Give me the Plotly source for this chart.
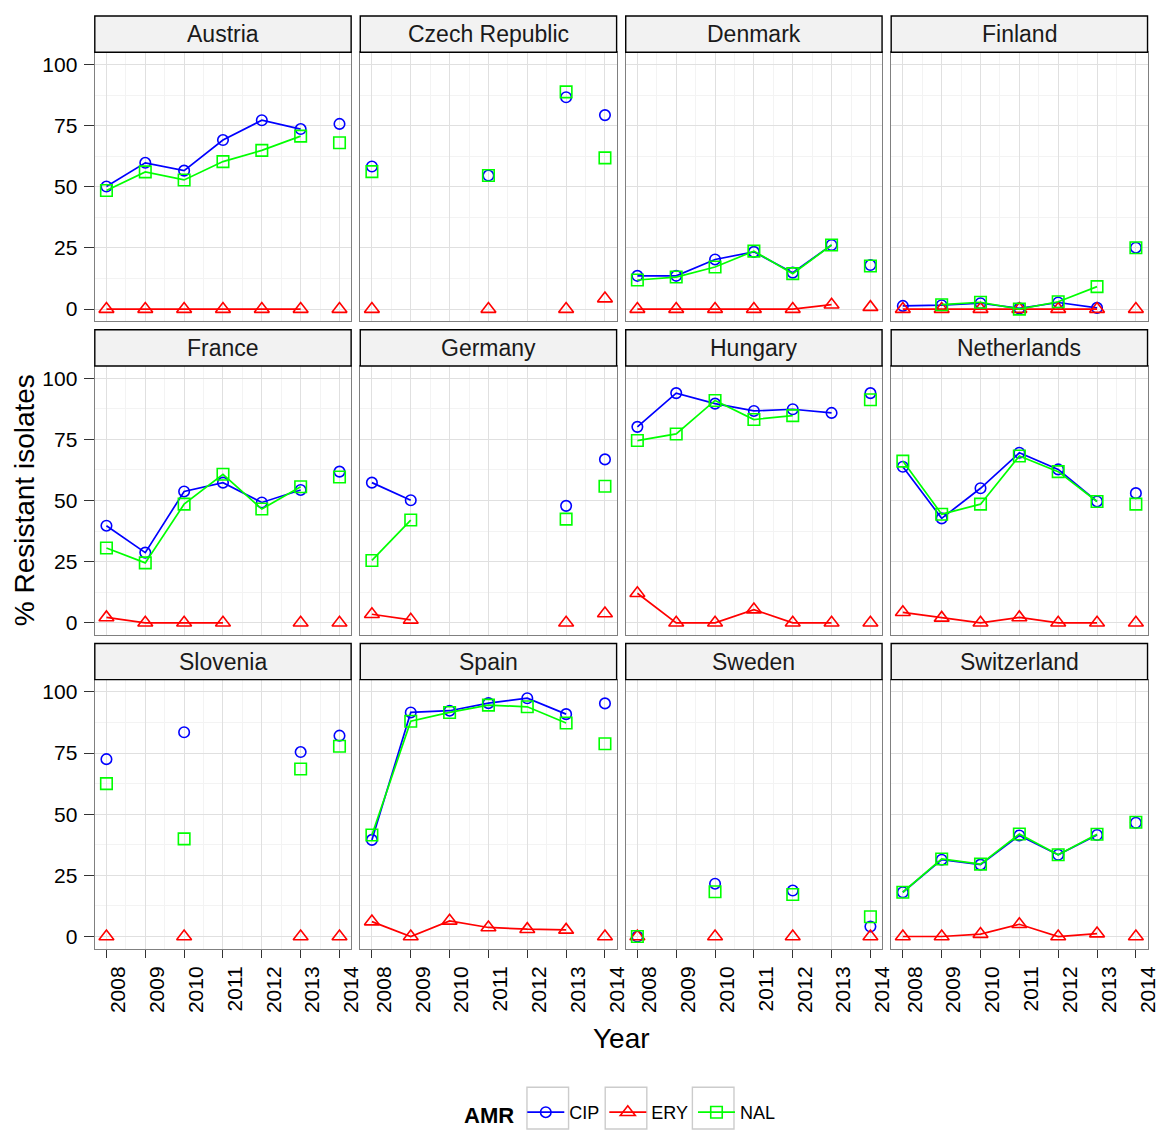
import plotly.graph_objects as go

W, H = 1162, 1133
N = None

YEARS = [2008, 2009, 2010, 2011, 2012, 2013, 2014]
COUNTRIES = ["Austria", "Czech Republic", "Denmark", "Finland",
             "France", "Germany", "Hungary", "Netherlands",
             "Slovenia", "Spain", "Sweden", "Switzerland"]

CIP = {
    "Austria":        [50.1, 59.8, 56.6, 69.1, 77.2, 73.6, 75.7],
    "Czech Republic": [58.3, N, N, 54.6, N, 86.6, 79.3],
    "Denmark":        [13.6, 13.6, 20.3, 23.4, 14.9, 26.2, 18.0],
    "Finland":        [1.3, 1.6, 2.4, 0.3, 2.7, 0.5, 25.1],
    "France":         [39.7, 28.7, 53.7, 57.3, 49.2, 54.3, 61.8],
    "Germany":        [57.3, 50.1, N, N, N, 47.8, 66.8],
    "Hungary":        [80.1, 93.9, 89.6, 86.6, 87.3, 85.8, 93.9],
    "Netherlands":    [63.8, 42.7, 55.0, 69.5, 62.7, 49.6, 53.0],
    "Slovenia":       [72.5, N, 83.5, N, N, 75.4, 82.1],
    "Spain":          [39.5, 91.6, 92.3, 95.4, 97.4, 90.9, 95.3],
    "Sweden":         [0.0, N, 21.6, N, 18.8, N, 4.1],
    "Switzerland":    [18.1, 31.4, 29.4, 41.3, 33.4, 41.5, 46.5],
}
ERY = {
    "Austria":        [0, 0, 0, 0, 0, 0, 0],
    "Czech Republic": [0, N, N, 0, N, 0, 4.3],
    "Denmark":        [0, 0, 0, 0, 0, 1.8, 0.8],
    "Finland":        [0, 0, 0, 0, 0, 0, 0],
    "France":         [2.2, 0, 0, 0, N, 0, 0],
    "Germany":        [3.5, 1.2, N, N, N, 0, 3.8],
    "Hungary":        [12.1, 0, 0, 5.4, 0, 0, 0],
    "Netherlands":    [4.3, 2.0, 0, 2.2, 0, 0, 0],
    "Slovenia":       [0, N, 0, N, N, 0, 0],
    "Spain":          [6.1, 0, 6.4, 3.7, 3.0, 2.7, 0],
    "Sweden":         [0, N, 0, N, 0, N, 0],
    "Switzerland":    [0, 0, 1.0, 5.0, 0, 1.2, 0],
}
NAL = {
    "Austria":        [48.5, 56.1, 52.8, 60.3, 64.9, 70.7, 68.0],
    "Czech Republic": [56.2, N, N, 54.6, N, 88.8, 61.8],
    "Denmark":        [11.9, 13.1, 17.2, 23.7, 14.5, 26.2, 17.6],
    "Finland":        [N, 1.8, 2.8, 0.0, 3.0, 9.2, 25.1],
    "France":         [30.6, 24.5, 48.5, 60.7, 46.5, 55.6, 59.6],
    "Germany":        [25.5, 42.0, N, N, N, 42.4, 55.8],
    "Hungary":        [74.5, 77.2, 90.9, 83.1, 84.7, N, 91.2],
    "Netherlands":    [66.1, 44.4, 48.5, 68.2, 61.8, 49.6, 48.5],
    "Slovenia":       [62.5, N, 39.9, N, N, 68.5, 77.8],
    "Spain":          [41.5, 88.0, 91.6, 94.6, 93.9, 87.3, 78.8],
    "Sweden":         [0.0, N, 18.3, N, 17.2, N, 8.1],
    "Switzerland":    [18.1, 31.7, 29.6, 41.9, 33.4, 41.8, 46.7],
}

SERIES = [("CIP", CIP, "#0000FF", "circle-open", 10.5),
          ("ERY", ERY, "#FF0000", "triangle-up-open", 13),
          ("NAL", NAL, "#00FF00", "square-open", 11.5)]

FONT = "Liberation Sans, Arial, sans-serif"

# panel geometry in pixels
COL_LEFT0, COL_STEP, PANEL_W = 95.7, 268.0, 258.8
ROW_TOP0, ROW_STEP, PANEL_H = 52.7, 316.5, 271.5
STRIP_H = 36.5
LEGEND_TOP = 1104
KEY_BOX_CENTERS = [553, 632, 720]


def px(x):
    return x / W


def py(y):
    return 1 - y / H


fig = go.Figure()
layout = dict(
    width=W, height=H, autosize=False,
    margin=dict(l=0, r=0, t=0, b=0),
    paper_bgcolor="white", plot_bgcolor="white",
    font=dict(family=FONT, color="black"),
    showlegend=True,
)
shapes = []
annotations = []

for i, country in enumerate(COUNTRIES):
    r, c = divmod(i, 4)
    k = "" if i == 0 else str(i + 1)
    left = COL_LEFT0 + c * COL_STEP
    top = ROW_TOP0 + r * ROW_STEP
    xd = [px(left), px(left + PANEL_W)]
    yd = [py(top + PANEL_H), py(top)]
    bottom_row = (r == 2)
    first_col = (c == 0)
    layout["xaxis" + k] = dict(
        domain=xd, anchor="y" + k, range=[2007.7, 2014.3],
        tick0=2008, dtick=1, showgrid=True, gridcolor="#E0E0E0", gridwidth=1.4,
        minor=dict(dtick=0.5, tick0=2008, showgrid=True, gridcolor="#F3F3F3", gridwidth=1),
        showline=True, mirror=True, linecolor="#808080", linewidth=1.4,
        zeroline=False,
        ticks="outside" if bottom_row else "", ticklen=8, tickwidth=1.4, tickcolor="#333333",
        showticklabels=bottom_row, tickangle=-90,
        ticklabelshift=12, ticklabelstandoff=0,
        tickfont=dict(size=21, color="black", family=FONT),
    )
    layout["yaxis" + k] = dict(
        domain=yd, anchor="x" + k, range=[-5, 105],
        tick0=0, dtick=25, showgrid=True, gridcolor="#E0E0E0", gridwidth=1.4,
        minor=dict(dtick=12.5, tick0=0, showgrid=True, gridcolor="#F3F3F3", gridwidth=1),
        showline=True, mirror=True, linecolor="#808080", linewidth=1.4,
        zeroline=False,
        ticks="outside" if first_col else "", ticklen=10, tickwidth=1.4, tickcolor="#333333",
        showticklabels=first_col, ticklabelstandoff=2,
        tickfont=dict(size=21, color="black", family=FONT),
    )
    # strip
    shapes.append(dict(type="rect", xref="paper", yref="paper",
                       x0=px(left), x1=px(left + PANEL_W),
                       y0=py(top), y1=py(top - STRIP_H),
                       fillcolor="#F2F2F2", line=dict(color="black", width=1.4),
                       layer="above"))
    annotations.append(dict(text=country, xref="paper", yref="paper",
                            x=px(left + PANEL_W / 2), y=py(top - STRIP_H / 2),
                            xanchor="center", yanchor="middle", showarrow=False,
                            font=dict(size=23, color="#1A1A1A", family=FONT)))

    for name, data, color, symbol, msize in SERIES:
        vals = data[country]
        fig.add_trace(go.Scatter(
            x=YEARS[:6], y=vals[:6], mode="lines+markers", name=name,
            legendgroup=name, showlegend=(i == 0), connectgaps=False,
            line=dict(color=color, width=1.7),
            marker=dict(symbol=symbol, size=msize, color=color,
                        line=dict(color=color, width=1.6)),
            xaxis="x" + k, yaxis="y" + k, cliponaxis=False,
        ))
        fig.add_trace(go.Scatter(
            x=YEARS[6:], y=vals[6:], mode="markers", name=name,
            legendgroup=name, showlegend=False,
            marker=dict(symbol=symbol, size=msize, color=color,
                        line=dict(color=color, width=1.6)),
            xaxis="x" + k, yaxis="y" + k, cliponaxis=False,
        ))

# legend key boxes (decoration around the legend symbols)
for cx in KEY_BOX_CENTERS:
    shapes.append(dict(type="rect", xref="paper", yref="paper",
                       x0=px(cx - 21), x1=px(cx + 21),
                       y0=py(LEGEND_TOP - 7 + 42), y1=py(LEGEND_TOP - 7),
                       fillcolor="white", line=dict(color="#CCCCCC", width=1.4),
                       layer="below"))

# axis titles
annotations.append(dict(text="% Resistant isolates", xref="paper", yref="paper",
                        x=px(25), y=py(ROW_TOP0 + (2 * ROW_STEP + PANEL_H) / 2),
                        xanchor="center", yanchor="middle", textangle=-90,
                        showarrow=False, font=dict(size=28, color="black", family=FONT)))
annotations.append(dict(text="Year", xref="paper", yref="paper",
                        x=px(COL_LEFT0 + (3 * COL_STEP + PANEL_W) / 2), y=py(1048),
                        xanchor="center", yanchor="middle",
                        showarrow=False, font=dict(size=28, color="black", family=FONT)))

layout["shapes"] = shapes
layout["annotations"] = annotations
layout["legend"] = dict(
    orientation="h", x=px(627), xanchor="center", y=py(LEGEND_TOP), yanchor="top",
    title=dict(text="<b>AMR</b>", font=dict(size=22, family=FONT, color="black"), side="left"),
    font=dict(size=18, family=FONT, color="black"),
    bgcolor="rgba(0,0,0,0)", itemwidth=37, tracegroupgap=0,
)
fig.update_layout(**layout)
fig.write_html("out.html", config={"displayModeBar": False},
               post_script="document.body.style.margin='0px';")
